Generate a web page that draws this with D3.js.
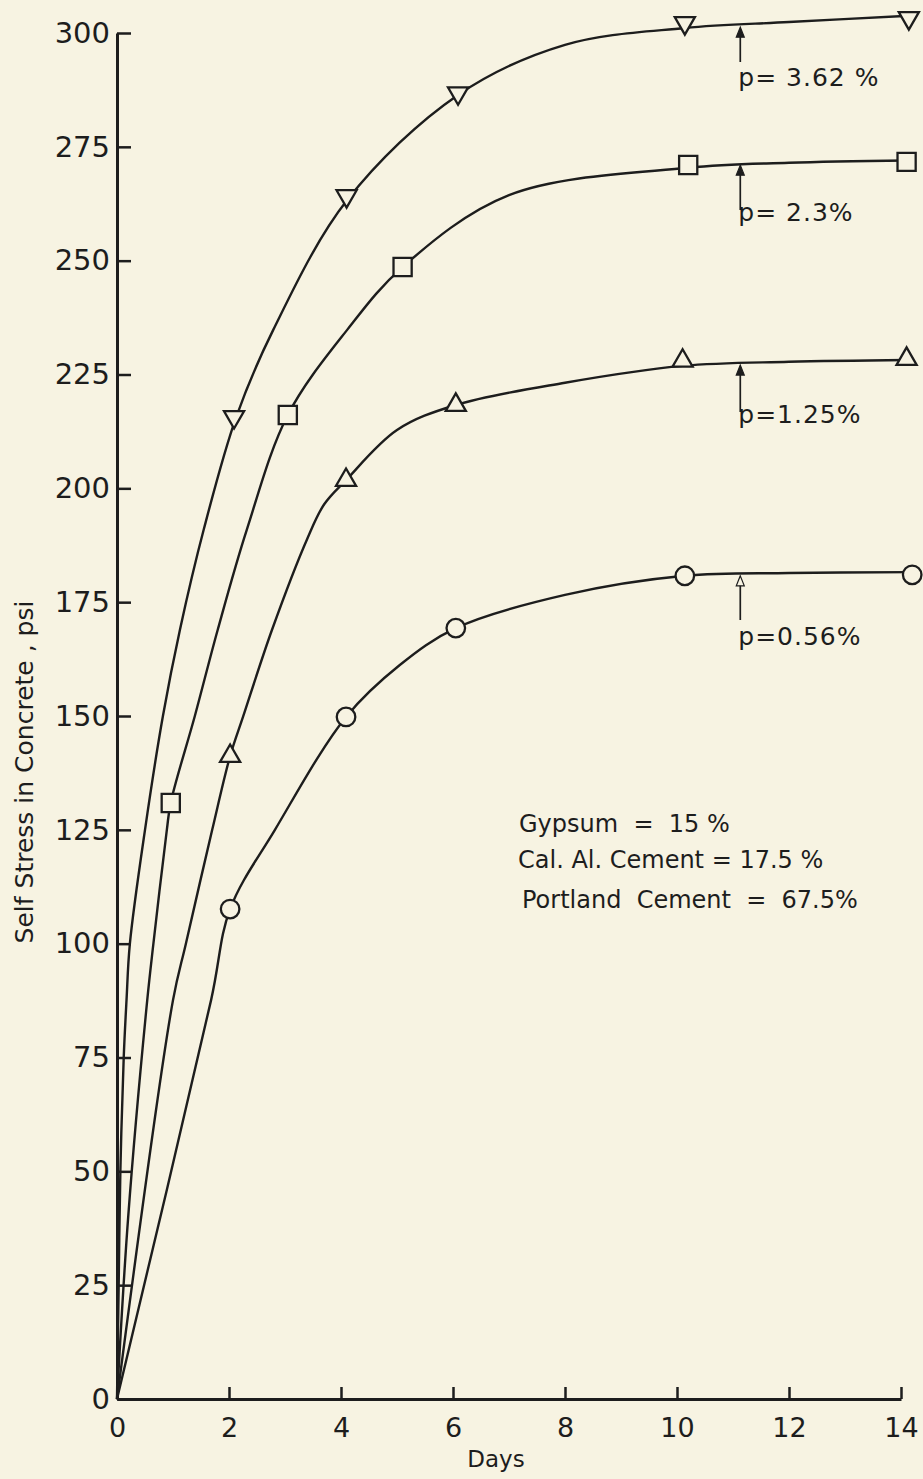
<!DOCTYPE html>
<html>
<head>
<meta charset="utf-8">
<script src="https://d3js.org/d3.v7.min.js"></script>
<style>
  body { margin: 0; background: #f7f3e2; }
  svg { display: block; }
  text { font-family: "DejaVu Sans", sans-serif; fill: #1d1d1d; white-space: pre; }
</style>
</head>
<body>
<div id="chart"></div>
<script>
// series labels (steel ratio p)
var seriesLabels = ["p= 3.62 %", "p= 2.3%", "p=1.25%", "p=0.56%"];
var seriesShapes = ["triangleDown", "square", "triangleUp", "circle"];

// measured points: days / self stress (psi)
var days362 = [2.09, 4.1, 6.09, 10.14, 14.14];
var stress362 = [215.7, 264.2, 286.8, 302.2, 303.3];
var days23 = [0.96, 3.05, 5.1, 10.2, 14.1];
var stress23 = [130.9, 216.1, 248.6, 271.0, 271.7];
var days125 = [2.02, 4.09, 6.05, 10.1, 14.1];
var stress125 = [141.2, 201.8, 218.3, 228.0, 228.4];
var days056 = [2.02, 4.09, 6.05, 10.14, 14.2];
var stress056 = [107.6, 149.8, 169.3, 180.8, 181.0];

// hand drawn curves
var curveDays362 = [0, 0.03, 0.06, 0.12, 0.17, 0.23, 0.5, 0.82, 1.125, 1.55, 2.13, 2.79, 4.11, 6.09, 8.0, 10.14, 12, 14.14];
var curveStress362 = [0, 25, 50, 75, 87.6, 100, 125, 150, 169, 191, 215.7, 234.8, 263.3, 286.4, 297.4, 301.1, 302.4, 303.8];
var curveDays23 = [0, 0.2, 0.54, 0.65, 0.89, 0.96, 1.39, 1.8, 2.32, 3.05, 4.11, 5.1, 7, 10.2, 12, 14.1];
var curveStress23 = [0, 40, 87.6, 100, 125, 131, 150, 169, 191, 216.1, 234.8, 248.6, 264.4, 270.4, 271.5, 272.0];
var curveDays125 = [0, 1.0, 1.23, 1.7, 2.02, 2.25, 2.77, 3.4, 3.7, 4.09, 5.0, 6.05, 8, 10.1, 12, 14.1];
var curveStress125 = [0, 87.6, 100, 125, 141.2, 149.8, 169, 189, 196.5, 201.8, 212.8, 218.3, 223.2, 226.9, 227.8, 228.2];
var curveDays056 = [0, 1.68, 2.02, 2.82, 4.09, 5.05, 6.05, 8, 10.14, 12, 14.2];
var curveStress056 = [0, 87.6, 107.6, 125, 149.8, 161.2, 169.3, 176.6, 180.8, 181.4, 181.6];

// where the label arrows touch each curve
var arrowDay = 11.13;
var arrowStress = [301.5, 271.2, 227.3, 181.0];

var xTicks = [0, 2, 4, 6, 8, 10, 12, 14];
var yTicks = [0, 25, 50, 75, 100, 125, 150, 175, 200, 225, 250, 275, 300];

var mixLines = ["Gypsum  =  15 %", "Cal. Al. Cement = 17.5 %", "Portland  Cement  =  67.5%"];

// ---- layout ----
var W = 923, H = 1479;
var bg = "#f7f3e2", ink = "#1d1d1d";
var labelBaseline = [86, 221, 423, 645];
var arrowBottom = [62, 210, 412, 620];

var svg = d3.select("#chart").append("svg").attr("width", W).attr("height", H);
svg.append("rect").attr("width", W).attr("height", H).attr("fill", bg);

var x = d3.scaleLinear().domain([0, 14]).range([117, 901]);
var y = d3.scaleLinear().domain([0, 300]).range([1399, 33]);

// axes
var yAxis = svg.append("g")
  .attr("transform", "translate(" + x(0) + ",0)")
  .call(d3.axisLeft(y).tickValues(yTicks).tickSizeInner(-14).tickSizeOuter(0).tickPadding(7).tickFormat(d3.format("d")));
var xAxis = svg.append("g")
  .attr("transform", "translate(0," + y(0) + ")")
  .call(d3.axisBottom(x).tickValues(xTicks).tickSizeInner(-12).tickSizeOuter(0).tickPadding(19).tickFormat(d3.format("d")));

[yAxis, xAxis].forEach(function(a) {
  a.select(".domain").attr("stroke", ink).attr("stroke-width", 3);
  a.selectAll(".tick line").attr("stroke", ink).attr("stroke-width", 2.5);
  a.selectAll(".tick text").attr("fill", ink).style("font-family", "DejaVu Sans");
});
yAxis.selectAll(".tick text").style("font-size", "29px");
xAxis.selectAll(".tick text").style("font-size", "27px");

svg.append("text")
  .attr("x", (x(0) + x(14)) / 2 - 13).attr("y", 1467)
  .attr("text-anchor", "middle").style("font-size", "23px")
  .text("Days");

svg.append("text")
  .attr("transform", "translate(33,772) rotate(-90)")
  .attr("text-anchor", "middle").style("font-size", "25px")
  .text("Self Stress in Concrete , psi");

// curves
var curves = [
  [curveDays362, curveStress362],
  [curveDays23, curveStress23],
  [curveDays125, curveStress125],
  [curveDays056, curveStress056]
];
var line = d3.line()
  .x(function(d) { return x(d[0]); })
  .y(function(d) { return y(d[1]); })
  .curve(d3.curveCatmullRom.alpha(0.5));

svg.selectAll(".curve")
  .data(curves)
  .enter().append("path")
  .attr("class", "curve")
  .attr("d", function(c) { return line(d3.zip(c[0], c[1])); })
  .attr("fill", "none")
  .attr("stroke", ink)
  .attr("stroke-width", 2.4);

// markers
var points = [
  [days362, stress362],
  [days23, stress23],
  [days125, stress125],
  [days056, stress056]
];
var symbolFor = {
  triangleDown: d3.symbol(d3.symbolTriangle, 175),
  triangleUp: d3.symbol(d3.symbolTriangle, 175),
  square: d3.symbol(d3.symbolSquare, 330),
  circle: d3.symbol(d3.symbolCircle, 270)
};

points.forEach(function(p, i) {
  var shape = seriesShapes[i];
  svg.append("g").selectAll("path")
    .data(d3.zip(p[0], p[1]))
    .enter().append("path")
    .attr("d", symbolFor[shape])
    .attr("transform", function(d) {
      return "translate(" + x(d[0]) + "," + y(d[1]) + ")" + (shape == "triangleDown" ? " rotate(180)" : "");
    })
    .attr("fill", bg)
    .attr("stroke", ink)
    .attr("stroke-width", 2.3);
});

// p labels with arrows
var ax = x(arrowDay);
seriesLabels.forEach(function(lbl, i) {
  var tip = y(arrowStress[i]) + 1;
  svg.append("line")
    .attr("x1", ax).attr("x2", ax)
    .attr("y1", tip + 6).attr("y2", arrowBottom[i])
    .attr("stroke", ink).attr("stroke-width", 1.7);
  svg.append("path")
    .attr("d", "M" + ax + "," + tip + "L" + (ax - 4) + "," + (tip + 10) + "L" + (ax + 4) + "," + (tip + 10) + "Z")
    .attr("fill", i == 3 ? bg : ink)
    .attr("stroke", ink).attr("stroke-width", 1.2);
  svg.append("text")
    .attr("x", ax - 2).attr("y", labelBaseline[i])
    .style("font-size", "25px")
    .style("letter-spacing", "1px")
    .text(lbl);
});

// mix proportions
var mixX = [519, 518, 522];
var mixY = [832, 868, 908];
svg.selectAll(".mix")
  .data(mixLines)
  .enter().append("text")
  .attr("class", "mix")
  .attr("x", function(d, i) { return mixX[i]; })
  .attr("y", function(d, i) { return mixY[i]; })
  .style("font-size", "24px")
  .text(function(d) { return d; });
</script>
</body>
</html>
